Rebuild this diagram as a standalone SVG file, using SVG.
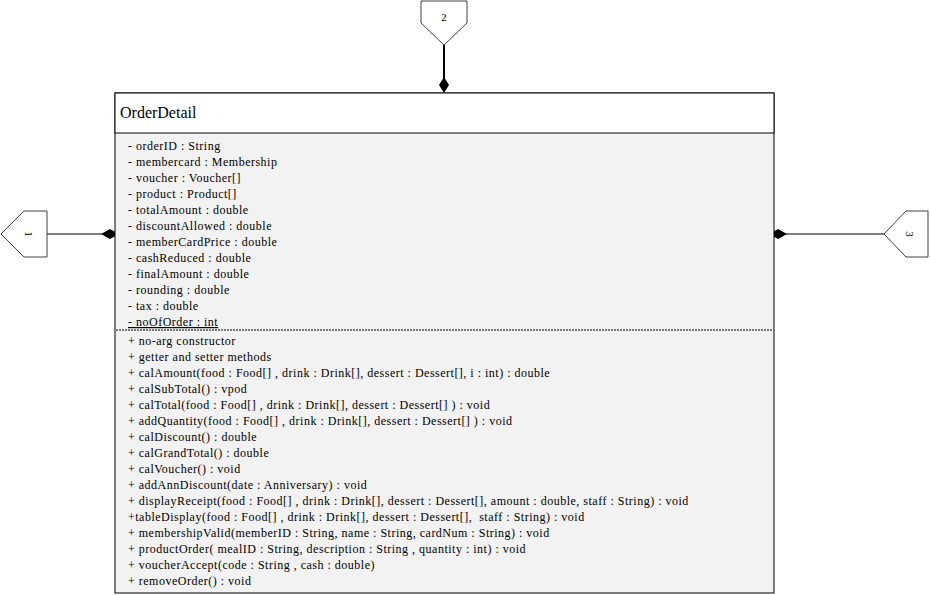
<svg xmlns="http://www.w3.org/2000/svg" width="930" height="595" viewBox="0 0 930 595">
<style>
.t{font-family:"Liberation Serif","Times New Roman",serif;font-size:12px;letter-spacing:0.5px;fill:#000}
.h{font-family:"Liberation Serif","Times New Roman",serif;font-size:16px;fill:#000}
.n{font-family:"Liberation Serif","Times New Roman",serif;font-size:11px;fill:#000}
.conn{stroke:#808080;stroke-width:2;fill:none}
.pg{fill:#fff;stroke:#404040;stroke-width:1}
.dm{fill:#000;stroke:none}
</style>
<rect width="930" height="595" fill="#fff"/>
<g id="connectors">
<line class="conn" x1="47" y1="234" x2="104" y2="234"/>
<polygon class="dm" points="101,234 110,229 119,234 110,239"/>
<line x1="444" y1="45" x2="444" y2="80" stroke="#000" stroke-width="2"/>
<polygon class="dm" points="444,77 449,85 444,93 439,85"/>
<line class="conn" x1="784" y1="234" x2="884" y2="234"/>
<polygon class="dm" points="769,234 778,229 787,234 778,239"/>
</g>
<g id="ref1">
<polygon class="pg" points="1,234 24,211 47,211 47,257 24,257"/>
<text class="n" transform="translate(29,234) rotate(90)" text-anchor="middle" dy="4">1</text>
</g>
<g id="ref2">
<polygon class="pg" points="421,1 467,1 467,23 444,45 421,23"/>
<text class="n" x="444" y="21" text-anchor="middle">2</text>
</g>
<g id="ref3">
<polygon class="pg" points="884,234 906,211 928,211 928,257 906,257"/>
<text class="n" transform="translate(910,234) rotate(90)" text-anchor="middle" dy="4">3</text>
</g>
<g id="OrderDetail">
<rect x="115" y="93" width="659" height="500" fill="#f2f2f2" stroke="#000" stroke-width="1"/>
<rect x="115" y="93" width="659" height="40" fill="#fff" stroke="#000" stroke-width="1"/>
<text class="h" x="120" y="118">OrderDetail</text>
<text class="t" x="128" y="150">- orderID : String</text>
<text class="t" x="128" y="166">- membercard : Membership</text>
<text class="t" x="128" y="182">- voucher : Voucher[]</text>
<text class="t" x="128" y="198">- product : Product[]</text>
<text class="t" x="128" y="214">- totalAmount : double</text>
<text class="t" x="128" y="230">- discountAllowed : double</text>
<text class="t" x="128" y="246">- memberCardPrice : double</text>
<text class="t" x="128" y="262">- cashReduced : double</text>
<text class="t" x="128" y="278">- finalAmount : double</text>
<text class="t" x="128" y="294">- rounding : double</text>
<text class="t" x="128" y="310">- tax : double</text>
<text class="t" x="128" y="326" text-decoration="underline">- noOfOrder : int</text>
<line x1="116" y1="330" x2="773" y2="330" stroke="#000" stroke-width="1" stroke-dasharray="2,1"/>
<text class="t" x="128" y="345">+ no-arg constructor</text>
<text class="t" x="128" y="361">+ getter and setter methods</text>
<text class="t" x="128" y="377">+ calAmount(food : Food[] , drink : Drink[], dessert : Dessert[], i : int) : double</text>
<text class="t" x="128" y="393">+ calSubTotal() : vpod</text>
<text class="t" x="128" y="409">+ calTotal(food : Food[] , drink : Drink[], dessert : Dessert[] ) : void</text>
<text class="t" x="128" y="425">+ addQuantity(food : Food[] , drink : Drink[], dessert : Dessert[] ) : void</text>
<text class="t" x="128" y="441">+ calDiscount() : double</text>
<text class="t" x="128" y="457">+ calGrandTotal() : double</text>
<text class="t" x="128" y="473">+ calVoucher() : void</text>
<text class="t" x="128" y="489">+ addAnnDiscount(date : Anniversary) : void</text>
<text class="t" x="128" y="505">+ displayReceipt(food : Food[] , drink : Drink[], dessert : Dessert[], amount : double, staff : String) : void</text>
<text class="t" x="128" y="521" xml:space="preserve">+tableDisplay(food : Food[] , drink : Drink[], dessert : Dessert[],  staff : String) : void</text>
<text class="t" x="128" y="537">+ membershipValid(memberID : String, name : String, cardNum : String) : void</text>
<text class="t" x="128" y="553">+ productOrder( mealID : String, description : String , quantity : int) : void</text>
<text class="t" x="128" y="569">+ voucherAccept(code : String , cash : double)</text>
<text class="t" x="128" y="585">+ removeOrder() : void</text>
</g>
</svg>
